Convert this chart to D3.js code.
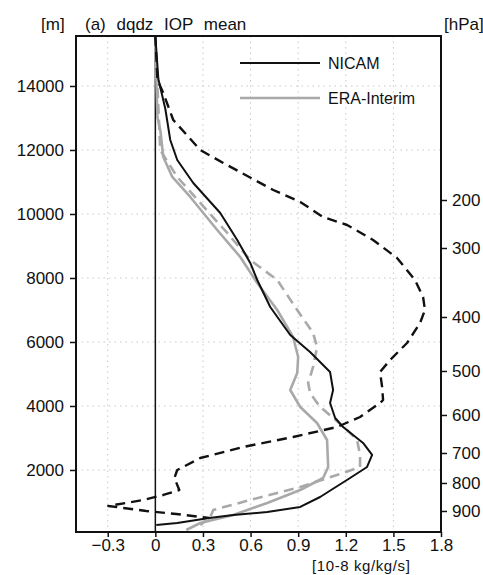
<!DOCTYPE html>
<html>
<head>
<meta charset="utf-8">
<script src="https://cdn.jsdelivr.net/npm/d3@7"></script>
<style>
  html, body { margin: 0; padding: 0; background: #fff; }
  svg { display: block; font-family: "Liberation Sans", Arial, sans-serif; }
</style>
</head>
<body>
<svg id="chart" width="483" height="575"></svg>
<script>
// ---------- data ----------
const xTicks = [-0.3, 0, 0.3, 0.6, 0.9, 1.2, 1.5, 1.8];
const xTickLabels = ["\u22120.3", "0", "0.3", "0.6", "0.9", "1.2", "1.5", "1.8"];
const heightTicks = [2000, 4000, 6000, 8000, 10000, 12000, 14000];
const pressureTicks = [200, 300, 400, 500, 600, 700, 800, 900];
const pressureTickHeights = [10437, 8937, 6781, 5094, 3719, 2531, 1594, 719];

// NICAM solid (black)
const nicamHeight = [15562, 14219, 13281, 12312, 11687, 10969, 10031, 9187, 8469, 7937, 7094, 6219, 5687, 5062, 4500, 4094, 3625, 3344, 2844, 2469, 2094, 1750, 1156, 844, 687, 594, 500, 344, 281];
const nicamValue  = [0, 0.019, 0.063, 0.094, 0.138, 0.239, 0.409, 0.516, 0.598, 0.642, 0.724, 0.850, 0.975, 1.101, 1.120, 1.101, 1.133, 1.183, 1.309, 1.366, 1.334, 1.227, 1.038, 0.913, 0.705, 0.491, 0.340, 0.138, 0.006];

// NICAM dashed (black)
const nicamDashHeight = [15562, 14187, 13781, 12937, 12000, 11594, 10750, 10375, 9906, 9656, 9187, 8625, 7937, 7406, 7000, 6594, 5969, 5437, 5062, 4594, 4187, 4094, 3656, 3344, 3031, 2719, 2375, 2000, 1750, 1375, 1219, 1062, 875, 812, 719, 625, 500];
const nicamDashValue  = [0, 0.013, 0.050, 0.113, 0.283, 0.428, 0.743, 0.913, 1.057, 1.208, 1.372, 1.523, 1.636, 1.687, 1.699, 1.668, 1.586, 1.479, 1.416, 1.429, 1.435, 1.416, 1.290, 1.145, 0.868, 0.554, 0.283, 0.138, 0.120, 0.151, 0.050, -0.076, -0.296, -0.201, -0.057, 0.132, 0.340];

// ERA-Interim solid (gray)
const eraHeight = [15437, 13031, 12625, 11781, 11156, 10531, 9500, 8656, 7844, 7000, 6156, 5531, 5031, 4500, 3969, 3469, 2937, 2094, 1750, 1375, 969, 594, 344, 125];
const eraValue  = [0, 0.013, 0.031, 0.050, 0.107, 0.220, 0.390, 0.535, 0.642, 0.768, 0.868, 0.900, 0.894, 0.850, 0.913, 1.019, 1.082, 1.089, 1.057, 0.913, 0.705, 0.491, 0.283, 0.195];

// ERA-Interim dashed (gray)
const eraDashHeight = [15437, 12000, 11594, 11156, 10344, 9406, 8562, 7937, 7000, 6281, 5844, 5219, 4719, 4406, 3969, 3844, 3250, 2937, 2469, 2094, 1906, 1469, 1062, 750, 531, 281];
const eraDashValue  = [0, 0.031, 0.082, 0.138, 0.283, 0.453, 0.598, 0.768, 0.894, 0.994, 1.019, 0.994, 0.963, 0.975, 1.038, 1.070, 1.208, 1.271, 1.290, 1.290, 1.183, 0.913, 0.598, 0.365, 0.346, 0.283];

const legendLabels = ["NICAM", "ERA-Interim"];

// ---------- layout ----------
const svg = d3.select("#chart");
const pLeft = 76, pRight = 441, pTop = 36, pBottom = 532;
const BLACK = "#111", GRAY = "#a9a9a9";

const x = d3.scaleLinear().domain([-0.5, 1.8]).range([pLeft, pRight]);
const y = d3.scaleLinear().domain([62, 15562]).range([pBottom, pTop]);

// grid
const grid = svg.append("g").attr("stroke", "#c8c8c8").attr("stroke-width", 1).attr("stroke-dasharray", "1.5,4");
grid.selectAll("line.v").data(xTicks.filter(d => d !== 0)).join("line").attr("class", "v")
  .attr("x1", d => x(d)).attr("x2", d => x(d)).attr("y1", pTop).attr("y2", pBottom);
grid.selectAll("line.h").data(heightTicks).join("line").attr("class", "h")
  .attr("x1", pLeft).attr("x2", pRight).attr("y1", d => y(d)).attr("y2", d => y(d));

// zero line
svg.append("line").attr("x1", x(0)).attr("x2", x(0)).attr("y1", pTop).attr("y2", pBottom)
  .attr("stroke", BLACK).attr("stroke-width", 1.5);

// series
const series = [
  { h: eraDashHeight, v: eraDashValue, color: GRAY, dash: "10,6", w: 2.6 },
  { h: eraHeight, v: eraValue, color: GRAY, dash: null, w: 2.6 },
  { h: nicamDashHeight, v: nicamDashValue, color: BLACK, dash: "10,6", w: 2.4 },
  { h: nicamHeight, v: nicamValue, color: BLACK, dash: null, w: 2 }
];
const line = d3.line().x(d => x(d[0])).y(d => y(d[1]));
svg.append("clipPath").attr("id", "clip").append("rect")
  .attr("x", pLeft).attr("y", pTop).attr("width", pRight - pLeft).attr("height", pBottom - pTop);
series.forEach(s => {
  svg.append("path")
    .datum(s.v.map((v, i) => [v, s.h[i]]))
    .attr("d", line)
    .attr("fill", "none")
    .attr("stroke", s.color)
    .attr("stroke-width", s.w)
    .attr("stroke-dasharray", s.dash)
    .attr("stroke-linejoin", "round")
    .attr("clip-path", "url(#clip)");
});

// axes
const fs = 17;
const xAxis = svg.append("g").attr("transform", `translate(0,${pBottom})`)
  .call(d3.axisBottom(x).tickValues(xTicks).tickFormat((d, i) => xTickLabels[i]).tickSize(5).tickPadding(2));
const yAxis = svg.append("g").attr("transform", `translate(${pLeft},0)`)
  .call(d3.axisLeft(y).tickValues(heightTicks).tickFormat(d3.format("d")).tickSize(6).tickPadding(6));
const pAxis = svg.append("g").attr("transform", `translate(${pRight},0)`)
  .call(d3.axisRight(y).tickValues(pressureTickHeights).tickFormat((d, i) => pressureTicks[i]).tickSize(6).tickPadding(5));
[xAxis, yAxis, pAxis].forEach(a => {
  a.select(".domain").remove();
  a.selectAll(".tick line").attr("stroke", BLACK).attr("stroke-width", 1.5);
  a.selectAll(".tick text").attr("font-size", fs).attr("fill", BLACK).attr("font-family", "Liberation Sans, Arial, sans-serif");
});

// frame
svg.append("rect").attr("x", pLeft).attr("y", pTop).attr("width", pRight - pLeft).attr("height", pBottom - pTop)
  .attr("fill", "none").attr("stroke", BLACK).attr("stroke-width", 2);

// texts
svg.append("text").attr("x", 41).attr("y", 30).attr("font-size", fs).attr("fill", BLACK).text("[m]");
svg.append("text").attr("x", 85).attr("y", 30).attr("font-size", fs).attr("fill", BLACK)
  .attr("word-spacing", 6).text("(a) dqdz IOP mean");
svg.append("text").attr("x", 444).attr("y", 30).attr("font-size", fs).attr("fill", BLACK).text("[hPa]");
svg.append("text").attr("x", 312).attr("y", 571).attr("font-size", 15).attr("fill", BLACK)
  .attr("letter-spacing", 0.6).text("[10-8 kg/kg/s]");

// legend
const legend = [
  { label: legendLabels[0], color: BLACK, yy: 63 },
  { label: legendLabels[1], color: GRAY, yy: 98 }
];
legend.forEach(l => {
  svg.append("line").attr("x1", 240).attr("x2", 320).attr("y1", l.yy).attr("y2", l.yy)
    .attr("stroke", l.color).attr("stroke-width", l.color === BLACK ? 2 : 2.6);
  svg.append("text").attr("x", 328).attr("y", l.yy + 6).attr("font-size", 16).attr("fill", BLACK).text(l.label);
});
</script>
</body>
</html>
